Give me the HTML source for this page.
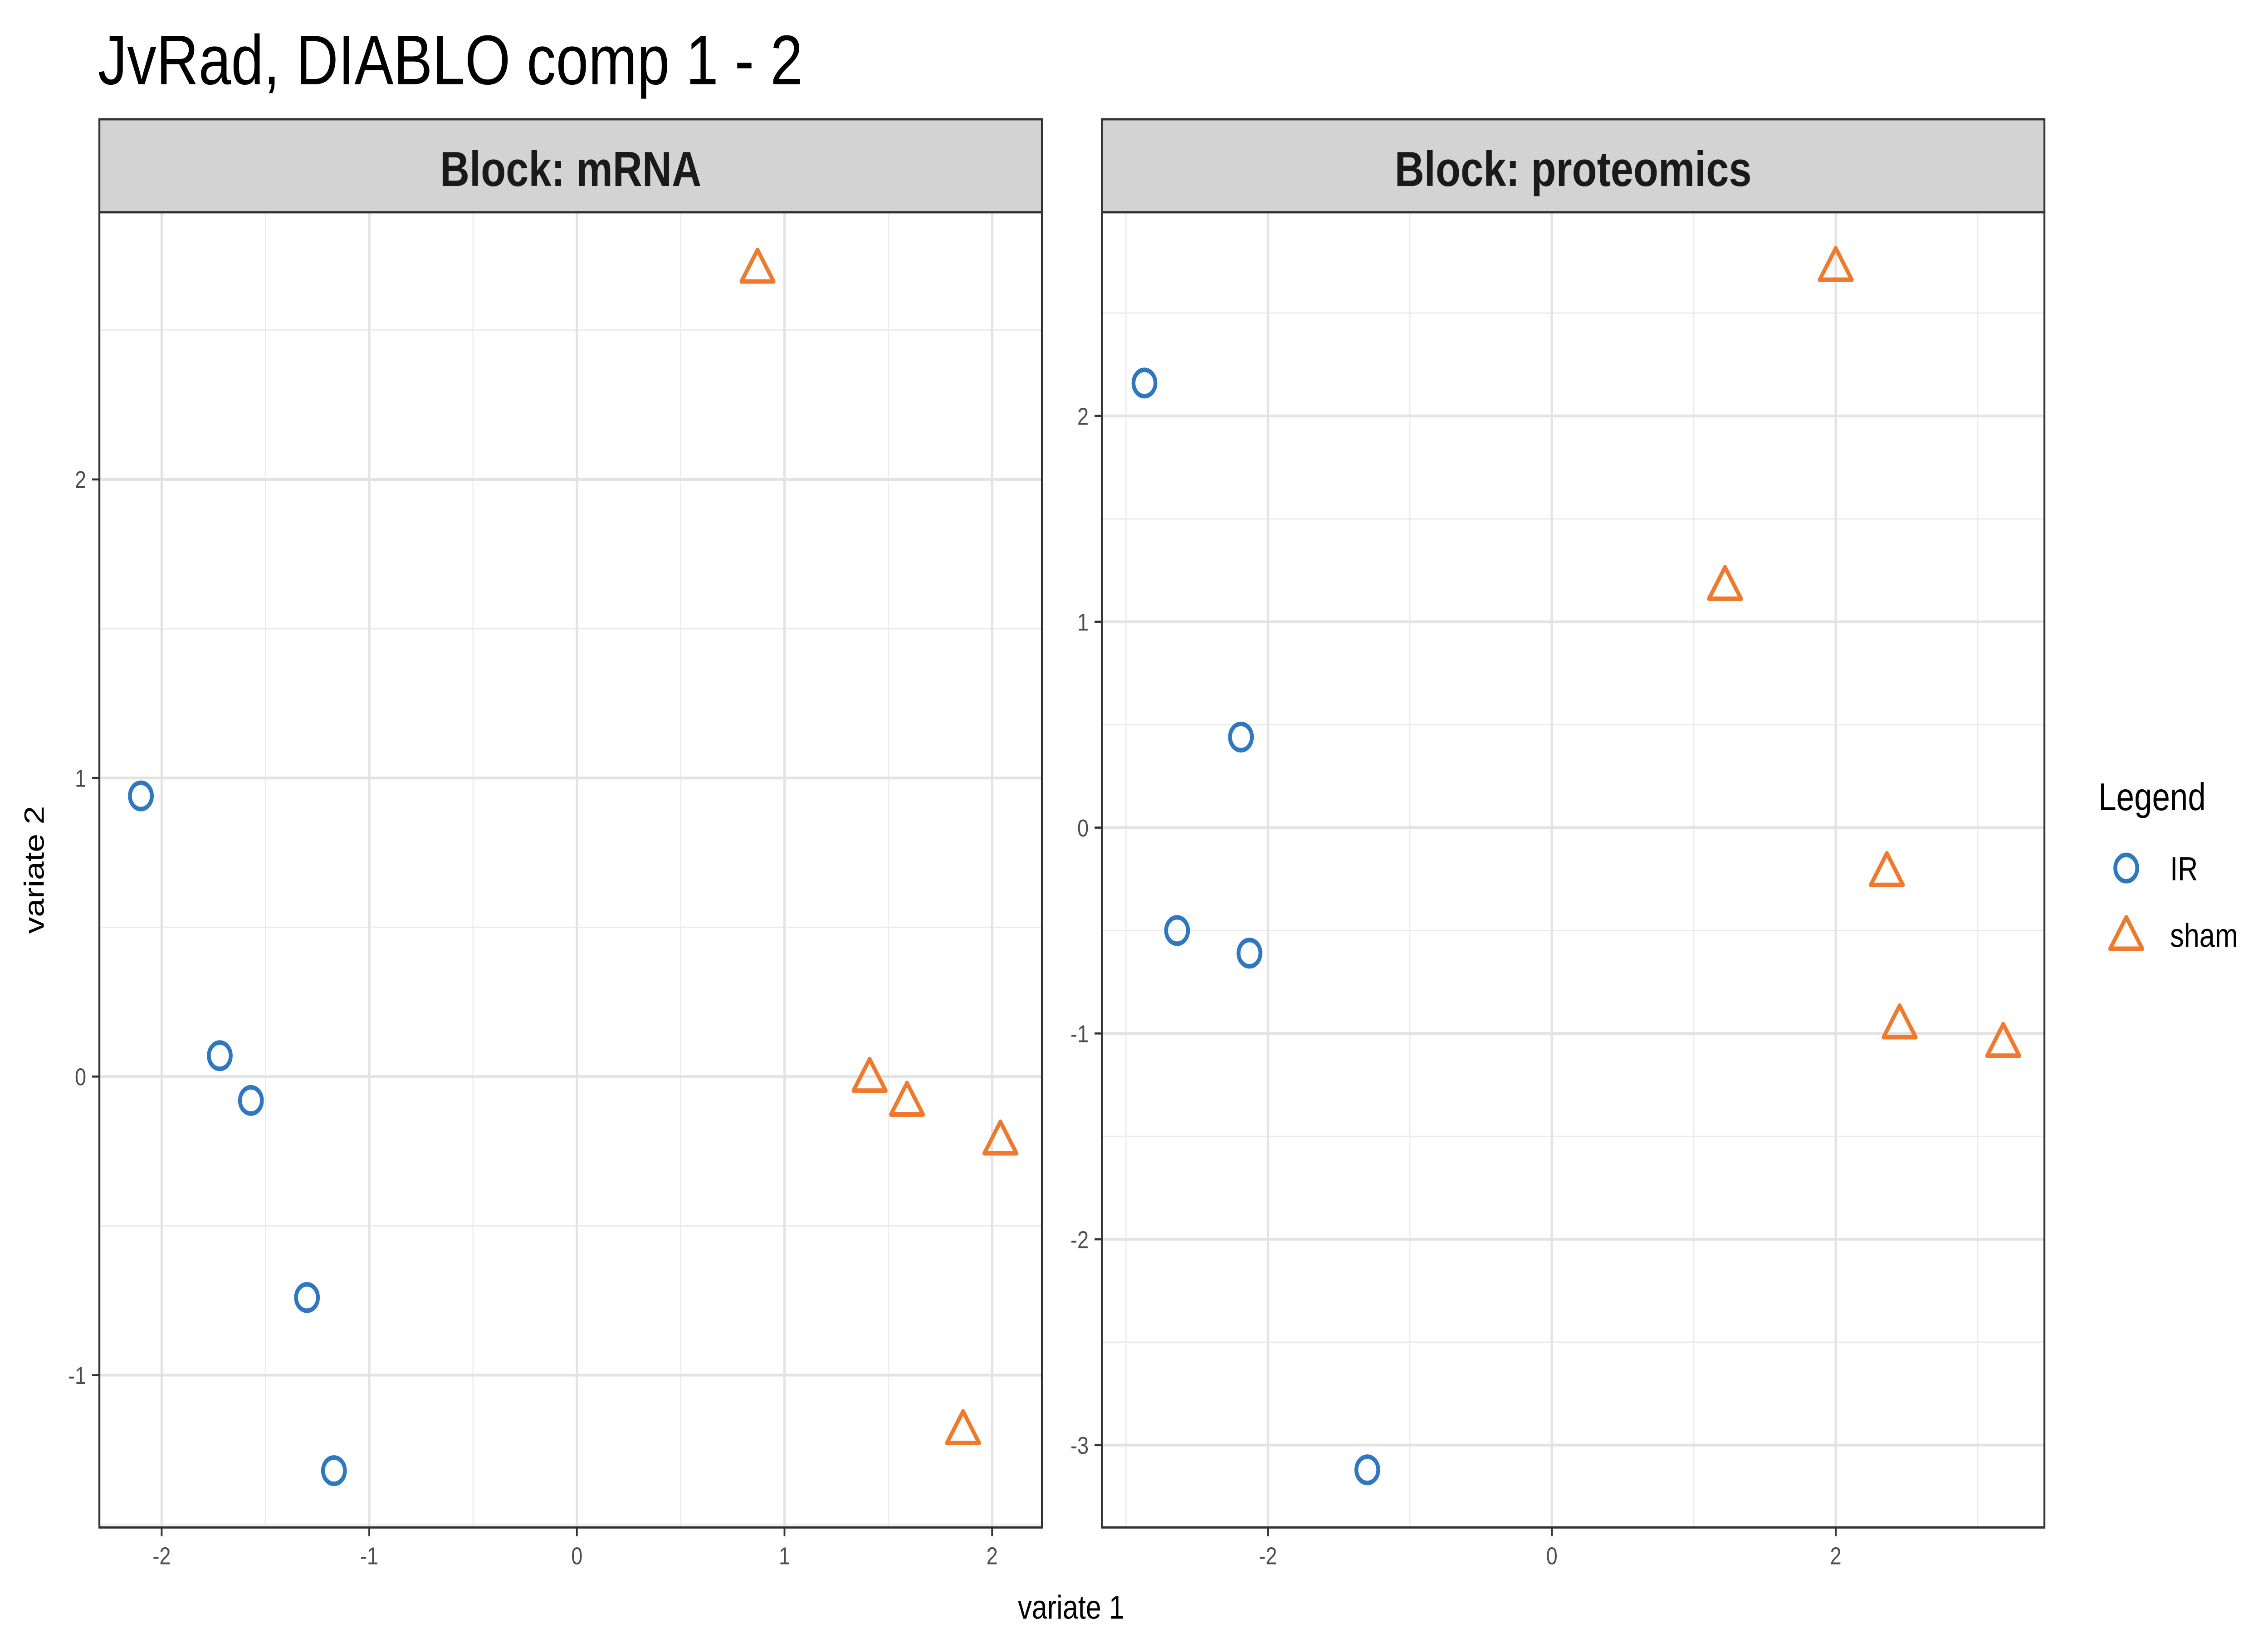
<!DOCTYPE html>
<html><head><meta charset="utf-8">
<style>
html,body{margin:0;padding:0;background:#fff;width:100%;height:100%;overflow:hidden;}
svg{display:block;width:100vw;height:100vh;font-family:"Liberation Sans",sans-serif;}
</style></head>
<body>
<svg id="chart" viewBox="0 0 1552 931.2" preserveAspectRatio="none" xmlns="http://www.w3.org/2000/svg">
<rect width="1552" height="931.2" fill="#fff"/>
<text x="67" y="48" font-size="40" fill="#000">JvRad, DIABLO comp 1 - 2</text>
<text x="733" y="923" font-size="19" text-anchor="middle" fill="#000">variate 1</text>
<text transform="translate(30,496) rotate(-90)" font-size="19" text-anchor="middle" fill="#000">variate 2</text>
<g id="legend">
<text x="1436" y="462" font-size="22" fill="#000">Legend</text>
<circle cx="1455" cy="495" r="7.5" fill="none" stroke="#2f78c0" stroke-width="2.6"/>
<text x="1485" y="502" font-size="19" fill="#000">IR</text>
<polygon points="1455,523 1466,541 1444,541" fill="none" stroke="#ef7a2e" stroke-width="2.6" stroke-linejoin="round"/>
<text x="1485" y="540" font-size="19" fill="#000">sham</text>
</g>
</svg>
<script>
// mRNA block data
const mrnaIrX = [-2.10, -1.72, -1.57, -1.30, -1.17];
const mrnaIrY = [0.94, 0.07, -0.08, -0.74, -1.32];
const mrnaShamX = [0.87, 1.41, 1.59, 2.04, 1.86];
const mrnaShamY = [2.71, 0.0, -0.08, -0.21, -1.18];
// proteomics block data
const protIrX = [-2.87, -2.19, -2.64, -2.13, -1.30];
const protIrY = [2.16, 0.44, -0.50, -0.61, -3.12];
const protShamX = [2.00, 1.22, 2.36, 2.45, 3.18];
const protShamY = [2.73, 1.18, -0.21, -0.95, -1.04];
// ticks
const mrnaXTicks = [-2, -1, 0, 1, 2];
const mrnaYTicks = [-1, 0, 1, 2];
const protXTicks = [-2, 0, 2];
const protYTicks = [-3, -2, -1, 0, 1, 2];

const NS = "http://www.w3.org/2000/svg";
const svg = document.getElementById('chart');
function el(tag, attrs, parent) {
  const e = document.createElementNS(NS, tag);
  for (const k in attrs) e.setAttribute(k, attrs[k]);
  (parent || svg).appendChild(e);
  return e;
}

function panel(cfg) {
  const g = el('g', {});
  
  
  const L = cfg.x0, R = cfg.x1, T = 121, B = 871;
  const sx = v => L + (v - cfg.xmin) / (cfg.xmax - cfg.xmin) * (R - L);
  const sy = v => B - (v - cfg.ymin) / (cfg.ymax - cfg.ymin) * (B - T);
  el('rect', {x: L, y: T, width: R - L, height: B - T, fill: '#fff'}, g);
  for (let v = Math.ceil(cfg.xmin / cfg.xStep) * cfg.xStep - cfg.xStep / 2; v <= cfg.xmax; v += cfg.xStep / 2) {
    if (v < cfg.xmin) continue;
    el('line', {x1: sx(v), x2: sx(v), y1: T, y2: B, stroke: '#ebebeb', 'stroke-width': 0.8}, g);
  }
  for (let v = Math.ceil(cfg.ymin * 2) / 2; v <= cfg.ymax; v += 0.5) {
    el('line', {x1: L, x2: R, y1: sy(v), y2: sy(v), stroke: '#ebebeb', 'stroke-width': 0.8}, g);
  }
  cfg.xTicks.forEach(v => {
    el('line', {x1: sx(v), x2: sx(v), y1: T, y2: B, stroke: '#e3e3e3', 'stroke-width': 1.6}, g);
    el('line', {x1: sx(v), x2: sx(v), y1: B, y2: B + 5, stroke: '#333', 'stroke-width': 1.2}, g);
    const t = el('text', {x: sx(v), y: B + 21, 'font-size': 14, 'text-anchor': 'middle', fill: '#4d4d4d'}, g);
    t.textContent = v;
    
    
  });
  cfg.yTicks.forEach(v => {
    el('line', {x1: L, x2: R, y1: sy(v), y2: sy(v), stroke: '#e3e3e3', 'stroke-width': 1.6}, g);
    el('line', {x1: L - 5, x2: L, y1: sy(v), y2: sy(v), stroke: '#333', 'stroke-width': 1.2}, g);
    const t = el('text', {x: L - 9, y: sy(v) + 5, 'font-size': 14, 'text-anchor': 'end', fill: '#4d4d4d'}, g);
    t.textContent = v;
    
    
  });
  el('rect', {x: L, y: T, width: R - L, height: B - T, fill: 'none', stroke: '#333', 'stroke-width': 1.3}, g);
  const strip = el('rect', {x: L, y: 68, width: R - L, height: 53, fill: '#d3d3d3', stroke: '#333', 'stroke-width': 1.3}, g);
  
  
  const st = el('text', {x: (L + R) / 2, y: 106, 'font-size': 28, 'font-weight': 'bold', 'text-anchor': 'middle', fill: '#1a1a1a'}, g);
  st.textContent = cfg.title;
  
  
  cfg.irX.forEach((v, i) => {
    const c = el('circle', {cx: sx(v), cy: sy(cfg.irY[i]), r: 7.5, fill: 'none', stroke: '#2f78c0', 'stroke-width': 2.6}, g);
    
    
  });
  cfg.shX.forEach((v, i) => {
    const x = sx(v), y = sy(cfg.shY[i]);
    const p = el('polygon', {points: `${x},${y - 10} ${x + 11},${y + 8} ${x - 11},${y + 8}`, fill: 'none', stroke: '#ef7a2e', 'stroke-width': 2.6, 'stroke-linejoin': 'round'}, g);
    
    
  });
}

panel({name: 'mrna', title: 'Block: mRNA', x0: 68, x1: 713, xmin: -2.30, xmax: 2.24, ymin: -1.51, ymax: 2.895, xStep: 1,
  xTicks: mrnaXTicks, yTicks: mrnaYTicks, irX: mrnaIrX, irY: mrnaIrY, shX: mrnaShamX, shY: mrnaShamY});
panel({name: 'proteomics', title: 'Block: proteomics', x0: 754, x1: 1399, xmin: -3.17, xmax: 3.47, ymin: -3.40, ymax: 2.99, xStep: 2,
  xTicks: protXTicks, yTicks: protYTicks, irX: protIrX, irY: protIrY, shX: protShamX, shY: protShamY});
</script>
</body></html>
